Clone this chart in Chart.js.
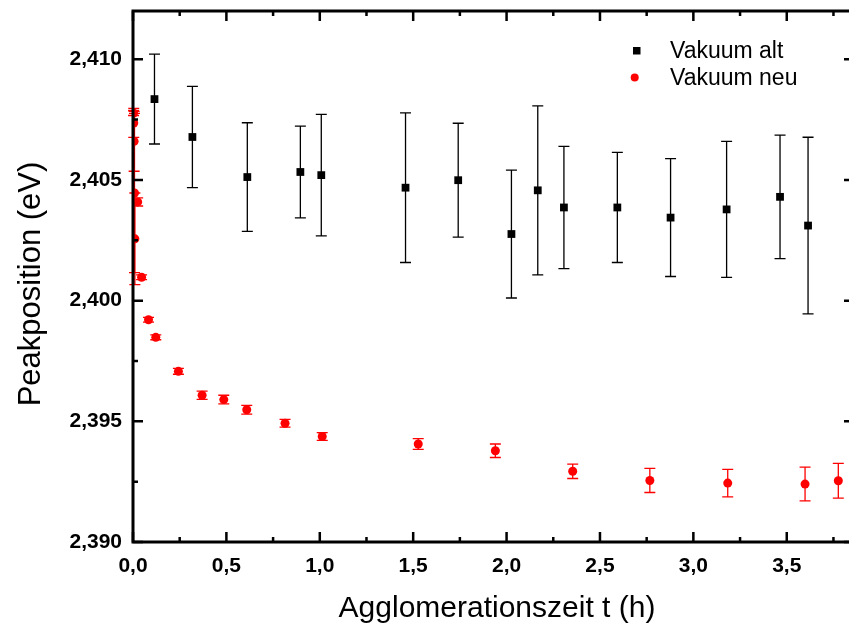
<!DOCTYPE html>
<html>
<head>
<meta charset="utf-8">
<title>Peakposition</title>
<script src="https://cdn.jsdelivr.net/npm/chart.js@4.4.1/dist/chart.umd.min.js"></script>
<style>
html, body { margin: 0; padding: 0; background: #fff; overflow: hidden; }
#wrap { position: relative; width: 849px; height: 628px; overflow: hidden; }
#peakChart { display: block; width: 860px; height: 628px; }
</style>
</head>
<body>
<div id="wrap"><canvas id="peakChart" width="860" height="628"></canvas></div>
<script>
// --- data
var altTime = [0.115, 0.318, 0.612, 0.896, 1.008, 1.459, 1.741, 2.026, 2.167, 2.307, 2.593, 2.878, 3.178, 3.464, 3.614];
var altPeak = [2.40835, 2.40678, 2.40512, 2.40533, 2.40520, 2.40468, 2.40499, 2.40276, 2.40457, 2.40386, 2.40386, 2.40344, 2.40378, 2.40430, 2.40311];
var altErr  = [0.00186, 0.00210, 0.00225, 0.00190, 0.00252, 0.00310, 0.00236, 0.00265, 0.00350, 0.00253, 0.00228, 0.00244, 0.00282, 0.00256, 0.00366];

var neuTime = [0.003, 0.004, 0.006, 0.008, 0.010, 0.025, 0.046, 0.083, 0.122, 0.243, 0.370, 0.486, 0.609, 0.814, 1.013, 1.527, 1.940, 2.354, 2.767, 3.184, 3.598, 3.776];
var neuPeak = [2.40777, 2.40736, 2.40660, 2.40446, 2.40256, 2.40409, 2.40097, 2.39921, 2.39848, 2.39707, 2.39608, 2.39590, 2.39548, 2.39492, 2.39437, 2.39406, 2.39378, 2.39293, 2.39255, 2.39244, 2.39240, 2.39254];
var neuErr  = [0.00010, 0.00060, 0.00124, 0.00330, 0.00190, 0.00017, 0.00010, 0.00010, 0.00010, 0.00012, 0.00017, 0.00018, 0.00018, 0.00016, 0.00016, 0.00022, 0.00028, 0.00030, 0.00050, 0.00057, 0.00070, 0.00072];

var xTicks = [0, 0.5, 1.0, 1.5, 2.0, 2.5, 3.0, 3.5];
var yTicks = [2.390, 2.395, 2.400, 2.405, 2.410];

var xTitle = 'Agglomerationszeit t (h)';
var yTitle = 'Peakposition (eV)';

var FONT = '"Liberation Sans", Arial, Helvetica, sans-serif';

function toPoints(xs, ys) {
    return xs.map(function (v, i) { return { x: v, y: ys[i] }; });
}

// error bars behind the markers, frame with inward ticks, titles + legend on top
var errorAndFrame = {
    id: 'errorAndFrame',
    beforeDatasetsDraw: function (chart) {
        var ctx = chart.ctx;
        var ys = chart.scales.y;
        chart.data.datasets.forEach(function (ds, i) {
            var meta = chart.getDatasetMeta(i);
            ctx.save();
            ctx.strokeStyle = ds.borderColor;
            ctx.lineWidth = 1.3;
            meta.data.forEach(function (pt, j) {
                var e = ds.errors[j];
                var top = ys.getPixelForValue(ds.data[j].y + e);
                var bot = ys.getPixelForValue(ds.data[j].y - e);
                ctx.beginPath();
                ctx.moveTo(pt.x, top); ctx.lineTo(pt.x, bot);
                ctx.moveTo(pt.x - 5.5, top); ctx.lineTo(pt.x + 5.5, top);
                ctx.moveTo(pt.x - 5.5, bot); ctx.lineTo(pt.x + 5.5, bot);
                ctx.stroke();
            });
            ctx.restore();
        });
    },
    afterDraw: function (chart) {
        var ctx = chart.ctx;
        var a = chart.chartArea;
        var xs = chart.scales.x, ys = chart.scales.y;
        ctx.save();
        ctx.strokeStyle = '#000';
        ctx.lineWidth = 3;
        ctx.beginPath();
        ctx.moveTo(a.right, a.top); ctx.lineTo(a.left, a.top);
        ctx.lineTo(a.left, a.bottom); ctx.lineTo(a.right, a.bottom);
        ctx.stroke();

        ctx.lineWidth = 2.5;
        ctx.beginPath();
        // x ticks, major + minor, bottom and top
        for (var v = 0; v <= 3.86; v += 0.25) {
            var px = xs.getPixelForValue(v);
            var len = (Math.round(v * 4) % 2 === 0) ? 10 : 5;
            ctx.moveTo(px, a.bottom); ctx.lineTo(px, a.bottom - len);
            ctx.moveTo(px, a.top); ctx.lineTo(px, a.top + len);
        }
        // y ticks, left and right
        for (var k = 0; k <= 8; k++) {
            var yv = 2.390 + k * 0.0025;
            var py = ys.getPixelForValue(yv);
            var ylen = (k % 2 === 0) ? 10 : 5;
            ctx.moveTo(a.left, py); ctx.lineTo(a.left + ylen, py);
            ctx.moveTo(a.right, py); ctx.lineTo(a.right - ylen, py);
        }
        ctx.stroke();

        // axis titles
        ctx.fillStyle = '#000';
        ctx.textAlign = 'center';
        ctx.textBaseline = 'middle';
        ctx.font = '30px ' + FONT;
        ctx.fillText(xTitle, 497, 609);
        ctx.save();
        ctx.translate(31, 284);
        ctx.rotate(-Math.PI / 2);
        ctx.font = '31px ' + FONT;
        ctx.fillText(yTitle, 0, 0);
        ctx.restore();

        // legend
        ctx.textAlign = 'left';
        ctx.font = '23px ' + FONT;
        chart.data.datasets.forEach(function (ds, i) {
            var ly = 50.5 + i * 27;
            ctx.fillStyle = ds.backgroundColor;
            if (ds.pointStyle === 'rect') {
                ctx.fillRect(633, ly - 3.5, 7.5, 7.5);
            } else {
                ctx.beginPath();
                ctx.arc(634.7, ly, 4, 0, Math.PI * 2);
                ctx.fill();
            }
            ctx.fillStyle = '#000';
            ctx.fillText(ds.label, 670, ly + 1);
        });
        ctx.restore();
    }
};

var ctx = document.getElementById('peakChart');
new Chart(ctx, {
    type: 'scatter',
    data: {
        datasets: [{
            label: 'Vakuum alt',
            data: toPoints(altTime, altPeak),
            errors: altErr,
            pointStyle: 'rect',
            pointRadius: 5.5,
            backgroundColor: '#000000',
            borderColor: '#000000',
            borderWidth: 0
        }, {
            label: 'Vakuum neu',
            data: toPoints(neuTime, neuPeak),
            errors: neuErr,
            pointStyle: 'circle',
            pointRadius: 4.5,
            backgroundColor: '#ff0000',
            borderColor: '#ff0000',
            borderWidth: 0
        }]
    },
    options: {
        responsive: false,
        maintainAspectRatio: false,
        devicePixelRatio: 1,
        animation: false,
        layout: { padding: { top: 11, right: 6, left: 0, bottom: 0 } },
        plugins: {
            legend: { display: false },
            tooltip: { enabled: false }
        },
        scales: {
            x: {
                type: 'linear',
                min: 0,
                max: 3.86,
                afterBuildTicks: function (scale) {
                    scale.ticks = xTicks.map(function (v) { return { value: v }; });
                },
                afterFit: function (scale) {
                    scale.height = 86;
                    scale.paddingLeft = 0;
                    scale.paddingRight = 0;
                },
                grid: { display: false, drawTicks: false },
                border: { display: false },
                ticks: {
                    padding: 12,
                    color: '#000',
                    maxRotation: 0,
                    font: { family: FONT, size: 21, weight: 'bold' },
                    callback: function (v) { return v.toFixed(1).replace('.', ','); }
                }
            },
            y: {
                min: 2.390,
                max: 2.412,
                afterBuildTicks: function (scale) {
                    scale.ticks = yTicks.map(function (v) { return { value: v }; });
                },
                afterFit: function (scale) {
                    scale.width = 133;
                    scale.paddingTop = 0;
                    scale.paddingBottom = 0;
                },
                grid: { display: false, drawTicks: false },
                border: { display: false },
                ticks: {
                    padding: 11,
                    color: '#000',
                    font: { family: FONT, size: 21, weight: 'bold' },
                    callback: function (v) { return v.toFixed(3).replace('.', ','); }
                }
            }
        }
    },
    plugins: [errorAndFrame]
});
</script>
</body>
</html>
